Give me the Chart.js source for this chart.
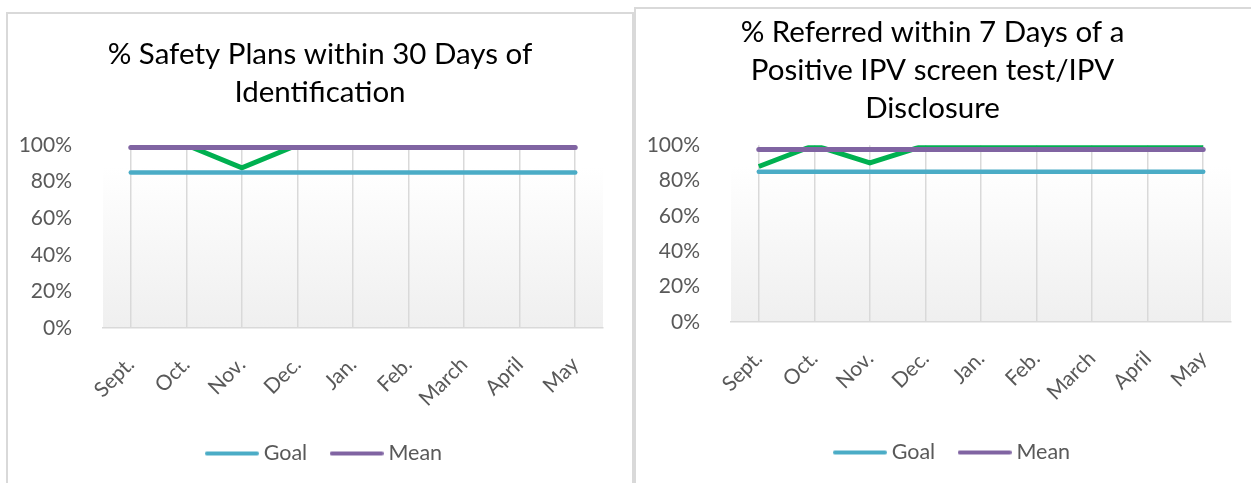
<!DOCTYPE html>
<html>
<head>
<meta charset="utf-8">
<script src="https://cdn.jsdelivr.net/npm/chart.js@4.4.0/dist/chart.umd.min.js"></script>
<style>
  body { margin: 0; background: #fff; width: 1251px; height: 483px; overflow: hidden; position: relative; }
  .box { position: absolute; border: 2px solid #d9d9d9; background: #fff; }
  #box1 { left: 6px; top: 12px; width: 624px; height: 485px; }
  #box2 { left: 634px; top: 7px; width: 630px; height: 485px; }
  canvas { position: absolute; left: 0; top: 0; }
</style>
</head>
<body>
<div class="box" id="box1"><canvas id="grafico_safety" width="624" height="480"></canvas></div>
<div class="box" id="box2"><canvas id="grafico_referred" width="615" height="481"></canvas></div>
<script>
const months = ['Sept.', 'Oct.', 'Nov.', 'Dec.', 'Jan.', 'Feb.', 'March', 'April', 'May'];
const yTicks = [0, 0.2, 0.4, 0.6, 0.8, 1];

const safetyPct  = [1.00, 1.00, 0.875, 1.00, 1.00, 1.00, 1.00, 1.00, 1.00];
const safetyGoal = [0.85, 0.85, 0.85, 0.85, 0.85, 0.85, 0.85, 0.85, 0.85];
const safetyMean = [0.986, 0.986, 0.986, 0.986, 0.986, 0.986, 0.986, 0.986, 0.986];

const referredPct  = [0.88, 1.00, 0.90, 1.00, 1.00, 1.00, 1.00, 1.00, 1.00];
const referredGoal = [0.85, 0.85, 0.85, 0.85, 0.85, 0.85, 0.85, 0.85, 0.85];
const referredMean = [0.976, 0.976, 0.976, 0.976, 0.976, 0.976, 0.976, 0.976, 0.976];

Chart.defaults.font.family = 'Lato';
Chart.defaults.color = '#595959';

// plot area background: white fading to light grey, like the Excel original
const plotBg = {
    id: 'plotBg',
    beforeDraw(chart) {
        const a = chart.chartArea;
        const c = chart.ctx;
        const g = c.createLinearGradient(0, a.top, 0, a.bottom);
        g.addColorStop(0, '#ffffff');
        g.addColorStop(0.12, '#ffffff');
        g.addColorStop(1, '#efefef');
        c.save();
        c.fillStyle = g;
        c.fillRect(a.left, a.top, a.right - a.left, a.bottom - a.top);
        c.restore();
    }
};

// nudge title / legend sideways (Excel doesn't center them on the canvas)
const shiftBoxes = {
    id: 'shiftBoxes',
    afterLayout(chart, args, opts) {
        chart.titleBlock.left += opts.title;
        chart.titleBlock.right += opts.title;
        chart.legend.left += opts.legend;
        chart.legend.right += opts.legend;
    }
};

// legend sample: a short rounded line
function legendLine(color) {
    const c = document.createElement('canvas');
    c.width = 54;
    c.height = 8;
    const x = c.getContext('2d');
    x.strokeStyle = color;
    x.lineWidth = 4;
    x.lineCap = 'round';
    x.beginPath();
    x.moveTo(2, 4);
    x.lineTo(52, 4);
    x.stroke();
    return c;
}

function makeChart(id, titleLines, pct, goal, mean, lay) {
    return new Chart(document.getElementById(id), {
        type: 'line',
        data: {
            labels: months,
            datasets: [
                { label: '%', data: pct, borderColor: '#00b050', backgroundColor: '#00b050', borderWidth: 5, order: 3 },
                { label: 'Goal', data: goal, borderColor: '#4bacc6', backgroundColor: '#4bacc6', borderWidth: 4.5, borderCapStyle: 'round', pointStyle: legendLine('#4bacc6'), order: 2 },
                { label: 'Mean', data: mean, borderColor: '#8064a2', backgroundColor: '#8064a2', borderWidth: 5, borderCapStyle: 'round', pointStyle: legendLine('#8064a2'), order: 1 }
            ]
        },
        options: {
            responsive: false,
            animation: false,
            devicePixelRatio: 1,
            elements: { point: { radius: 0 }, line: { tension: 0 } },
            layout: { padding: { left: 0, right: lay.right, top: 0, bottom: lay.bottom } },
            scales: {
                x: {
                    offset: true,
                    grid: { offset: false, color: '#d9d9d9', lineWidth: 1.5, drawTicks: false },
                    border: { color: '#d9d9d9', width: 1.5 },
                    ticks: { maxRotation: 45, minRotation: 45, padding: 24, font: { size: 21 } },
                    afterFit(scale) { scale.height = lay.xHeight; }
                },
                y: {
                    min: 0,
                    max: 1,
                    afterBuildTicks(scale) { scale.ticks = yTicks.map(v => ({ value: v })); },
                    grid: { display: false },
                    border: { display: false },
                    ticks: { padding: 23, font: { size: 21 }, callback: v => Math.round(v * 100) + '%' },
                    afterFit(scale) { scale.width = 95; }
                }
            },
            plugins: {
                title: {
                    display: true,
                    text: titleLines,
                    color: '#000000',
                    font: { size: 29.5, weight: 'normal', lineHeight: 1.28 },
                    padding: { top: lay.titleTop, bottom: lay.titleBottom }
                },
                legend: {
                    position: 'bottom',
                    labels: {
                        usePointStyle: true,
                        pointStyleWidth: 42,
                        padding: 28.5,
                        font: { size: 21.5 },
                        filter: item => item.datasetIndex !== 0,
                        sort: (a, b) => a.datasetIndex - b.datasetIndex
                    }
                },
                shiftBoxes: { title: lay.titleDx, legend: lay.legendDx },
                tooltip: { enabled: false }
            }
        },
        plugins: [plotBg, shiftBoxes]
    });
}

makeChart('grafico_safety',
    ['% Safety Plans within 30 Days of', 'Identification'],
    safetyPct, safetyGoal, safetyMean,
    { right: 29, bottom: 19.75, xHeight: 86.25, titleTop: 22, titleBottom: 33.5, titleDx: 14.5, legendDx: 21 });

makeChart('grafico_referred',
    ['% Referred within 7 Days of a', 'Positive IPV screen test/IPV', 'Disclosure'],
    referredPct, referredGoal, referredMean,
    { right: 20, bottom: 16.75, xHeight: 91.25, titleTop: 5, titleBottom: 18, titleDx: -1, legendDx: 21 });
</script>
</body>
</html>
